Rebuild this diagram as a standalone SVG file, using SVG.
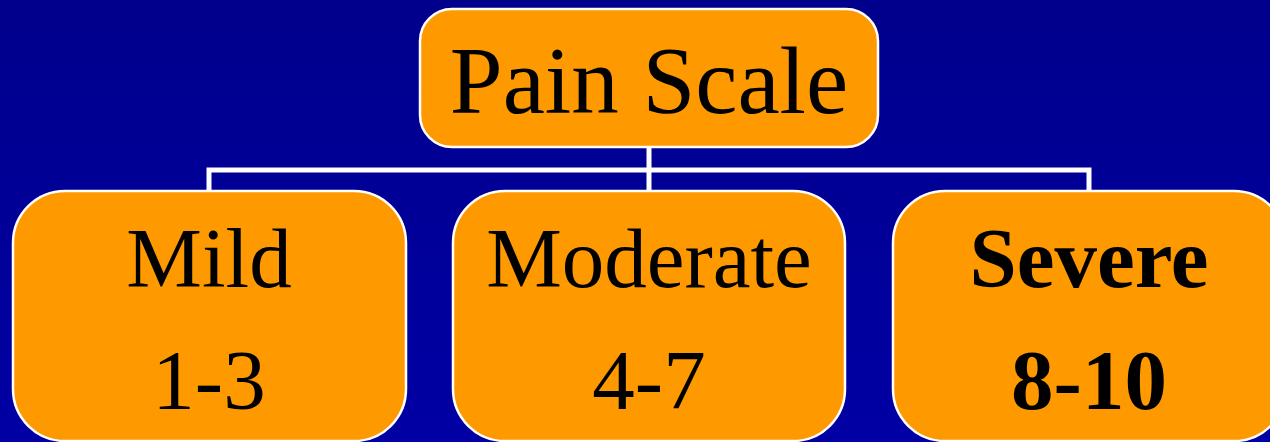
<svg xmlns="http://www.w3.org/2000/svg" width="1270" height="442" viewBox="0 0 1270 442">
<defs>
<linearGradient id="bg" x1="0" y1="0" x2="0" y2="1">
<stop offset="0" stop-color="#00008C"/>
<stop offset="1" stop-color="#0000A4"/>
</linearGradient>
<style>
.box{fill:#FF9900;stroke:#FFFFFF;stroke-width:2.5}
.t{font-family:"Liberation Serif","Times New Roman",serif;fill:#000;text-anchor:middle}
.conn{fill:none;stroke:#FFFFFF;stroke-width:5}
</style>
</defs>
<rect width="1270" height="442" fill="url(#bg)"/>
<g id="connectors">
<path class="conn" d="M649 147 V170 M209 190 V170 H1089 V190 M649 170 V190"/>
</g>
<g id="node-pain-scale">
<rect class="box" x="420" y="9" width="458" height="138" rx="32" ry="32"/>
<text class="t" x="649" y="113" font-size="95">Pain Scale</text>
</g>
<g id="node-mild">
<rect class="box" x="13" y="191" width="393" height="250" rx="52" ry="52"/>
<text class="t" x="209" y="287" font-size="85">Mild</text>
<text class="t" x="209" y="409" font-size="85">1-3</text>
</g>
<g id="node-moderate">
<rect class="box" x="453" y="191" width="392" height="250" rx="52" ry="52"/>
<text class="t" x="649" y="287" font-size="85">Moderate</text>
<text class="t" x="649" y="409" font-size="85">4-7</text>
</g>
<g id="node-severe">
<rect class="box" x="893" y="191" width="393" height="250" rx="52" ry="52"/>
<text class="t" x="1089" y="287" font-size="85" font-weight="bold">Severe</text>
<text class="t" x="1089" y="409" font-size="85" font-weight="bold">8-10</text>
</g>
</svg>
